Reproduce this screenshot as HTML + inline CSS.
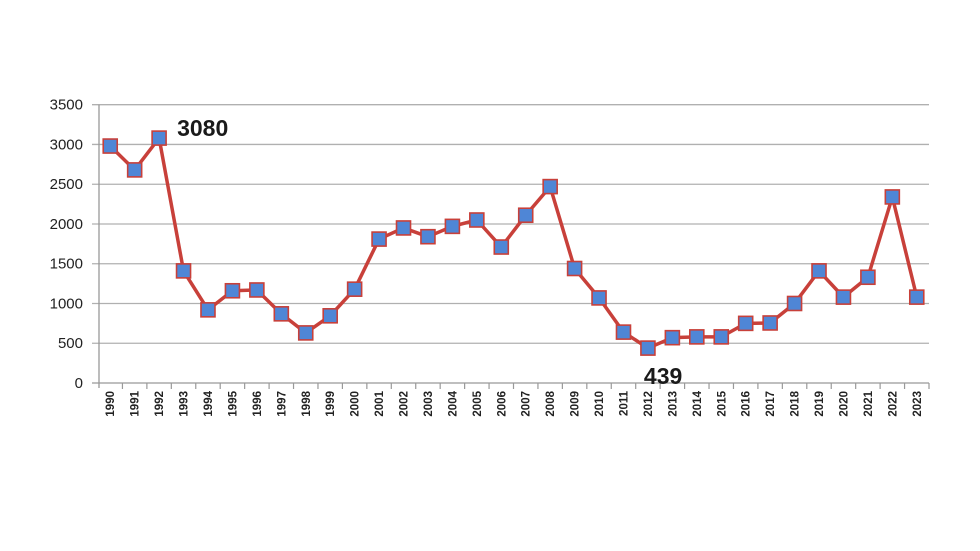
<!DOCTYPE html>
<html><head><meta charset="utf-8"><style>
html,body{margin:0;padding:0;background:#fff}
svg{display:block;font-family:"Liberation Sans",Arial,sans-serif}
</style></head><body>
<svg id="chart" width="980" height="551"></svg>
<script>
const years=[1990,1991,1992,1993,1994,1995,1996,1997,1998,1999,2000,2001,2002,2003,2004,2005,2006,2007,2008,2009,2010,2011,2012,2013,2014,2015,2016,2017,2018,2019,2020,2021,2022,2023];
const values=[2980,2680,3080,1410,920,1160,1170,870,630,845,1180,1810,1950,1840,1970,2050,1710,2110,2470,1440,1070,640,439,570,580,580,750,755,1000,1410,1080,1330,2340,1080];
const yTicks=[0,500,1000,1500,2000,2500,3000,3500];
const annotations=[{i:2,text:"3080",dx:18,dy:-2},{i:22,text:"439",dx:-4,dy:36}];
const NS="http://www.w3.org/2000/svg";
const svg=document.getElementById('chart');
const L=98,R=929,T=104.7,B=383,YMAX=3500;
const bw=(R-L)/years.length;
const x=i=>L+bw*(i+0.5);
const y=v=>B-(v/YMAX)*(B-T);
function mk(tag,attrs){const e=document.createElementNS(NS,tag);for(const k in attrs)e.setAttribute(k,attrs[k]);svg.appendChild(e);return e;}
yTicks.forEach(t=>{
  const g=mk('line',{x1:L-6,x2:R,y1:y(t),y2:y(t),stroke:t===0?'#999':'#b0b0b0','stroke-width':1.3});
  
  
  const tx=mk('text',{x:83,y:y(t)+5,'text-anchor':'end','font-size':15,fill:'#222'});
  tx.textContent=t;
  
  
});
const ax=mk('line',{x1:L+1,x2:L+1,y1:T,y2:B+5,stroke:'#999','stroke-width':1.3});


years.forEach((yr,i)=>{
  const tk=mk('line',{x1:L+bw*(i+1),x2:L+bw*(i+1),y1:B,y2:B+6,stroke:'#999','stroke-width':1.2});
  
  
  const cx=x(i)+4,cy=B+8;
  const tx=mk('text',{x:cx,y:cy,'text-anchor':'end','font-size':11.5,'font-weight':'bold',fill:'#222',transform:`rotate(-90 ${cx} ${cy})`});
  tx.textContent=yr;
  
  
});
const pl=mk('polyline',{points:values.map((v,i)=>x(i)+','+y(v)).join(' '),fill:'none',stroke:'#c8403a','stroke-width':3.5,'stroke-linejoin':'round'});


values.forEach((v,i)=>{
  const r=mk('rect',{x:x(i)-7,y:y(v)-7,width:14,height:14,fill:'#4f86d6',stroke:'#c8403a','stroke-width':1.6});
  
  
});
annotations.forEach(a=>{
  const tx=mk('text',{x:x(a.i)+a.dx,y:y(values[a.i])+a.dy,'font-size':23,'font-weight':'bold',fill:'#1a1a1a'});
  tx.textContent=a.text;
  
  
});
</script>
</body></html>
